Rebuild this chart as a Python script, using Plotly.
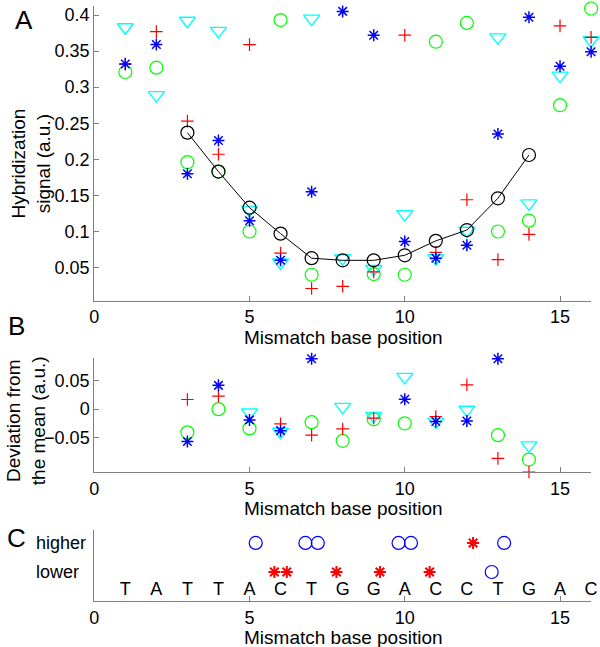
import plotly.graph_objects as go

FONT = "Liberation Sans, Arial, Helvetica, sans-serif"
AXIS_GREY = "#7f7f7f"

# ---- data -----------------------------------------------------------------
positions = list(range(1, 17))
x_ticks = [0, 5, 10, 15]

# Panel A: hybridization signal (a.u.) at each mismatch base position
red_plus = [0.332, 0.377, 0.253, 0.207, 0.359, 0.070, 0.021, 0.024,
            0.044, 0.372, 0.071, 0.144, 0.061, 0.096, 0.385, 0.369]
blue_star = [0.332, 0.359, 0.180, 0.226, 0.115, 0.060, 0.155, 0.405,
             0.372, 0.086, 0.063, 0.081, 0.235, 0.397, 0.329, 0.349]
green_circle = [0.321, 0.327, 0.196, 0.183, 0.100, 0.393, 0.040, 0.004,
                0.041, 0.040, 0.363, 0.389, 0.100, 0.115, 0.275, 0.409]
cyan_triangle = [0.383, 0.289, 0.392, 0.378, 0.130, 0.057, 0.395, 0.063,
                 0.048, 0.124, 0.063, 0.101, 0.369, 0.139, 0.316, 0.365]

mean_positions = list(range(3, 15))
mean_signal = [0.237, 0.183, 0.133, 0.097, 0.063, 0.060,
               0.060, 0.067, 0.087, 0.102, 0.146, 0.206]

a_yticks = [0.05, 0.1, 0.15, 0.2, 0.25, 0.3, 0.35, 0.4]
a_yticktext = ["0.05", "0.1", "0.15", "0.2", "0.25", "0.3", "0.35", "0.4"]

# Panel B: deviation from the mean (a.u.), positions 3..14, None = off axis
dev_red = [0.017, 0.023, None, -0.026, -0.046, -0.035,
           -0.016, None, -0.013, 0.043, -0.087, -0.111]
dev_blue = [-0.057, 0.042, -0.019, -0.038, 0.089, None,
            None, 0.0175, -0.022, -0.021, 0.089, None]
dev_green = [-0.041, 0.0, -0.034, None, -0.023, -0.056,
             -0.018, -0.025, None, None, -0.046, -0.089]
dev_cyan = [None, None, -0.006, -0.040, None, 0.004,
            -0.012, 0.057, -0.022, -0.001, None, -0.064]

b_yticks = [-0.05, 0, 0.05]
b_yticktext = ["\u22120.05", "0", "0.05"]

# Panel C: probe sequence and higher / lower signal markers
bases = ["T", "A", "T", "T", "A", "C", "T", "G",
         "G", "A", "C", "C", "T", "G", "A", "C"]
higher_circle_x = [5.2, 6.8, 7.2, 9.8, 10.2, 13.2]
higher_star_x = [12.2]
lower_star_x = [5.8, 6.2, 7.8, 9.2, 10.8]
lower_circle_x = [12.8]

# ---- layout helpers --------------------------------------------------------
W, H = 600, 647


def px_x(p):
    return p / W


def px_y(p):
    return 1 - p / H


X_DOMAIN = [px_x(90), px_x(591)]
Y_HIGHER, Y_LOWER, Y_BASES = 0.82, 0.41, 0.155


def marker(symbol, color, size, width=1.2):
    return dict(symbol=symbol, size=size, color=color,
                line=dict(color=color, width=width))


MARKERS = {
    "green": marker("circle-open", "#00ff00", 13),
    "cyan": marker("triangle-down-open", "#00ffff", 14, 1.4),
    "red": marker("cross-thin-open", "#ff0000", 9, 1.2),
    "blue": marker("asterisk-open", "#0000ff", 10, 1.5),
}

fig = go.Figure()

# Panel A
for key, vals in [("green", green_circle), ("cyan", cyan_triangle),
                  ("red", red_plus), ("blue", blue_star)]:
    fig.add_trace(go.Scatter(x=positions, y=vals, mode="markers",
                             marker=MARKERS[key], cliponaxis=False,
                             xaxis="x", yaxis="y"))
fig.add_trace(go.Scatter(x=mean_positions, y=mean_signal, mode="lines+markers",
                         line=dict(color="black", width=1),
                         marker=marker("circle-open", "black", 13),
                         cliponaxis=False, xaxis="x", yaxis="y"))

# Panel B
for key, vals in [("green", dev_green), ("cyan", dev_cyan),
                  ("red", dev_red), ("blue", dev_blue)]:
    fig.add_trace(go.Scatter(x=mean_positions, y=vals, mode="markers",
                             marker=MARKERS[key], cliponaxis=False,
                             xaxis="x2", yaxis="y2"))

# Panel C
fig.add_trace(go.Scatter(x=positions, y=[Y_BASES] * len(bases), mode="text",
                         text=bases, textfont=dict(family=FONT, size=18, color="black"),
                         cliponaxis=False, xaxis="x3", yaxis="y3"))
for xs, level, m in [
    (higher_circle_x, Y_HIGHER, marker("circle-open", "#0000ff", 13)),
    (lower_circle_x, Y_LOWER, marker("circle-open", "#0000ff", 13)),
    (higher_star_x, Y_HIGHER, marker("asterisk-open", "#ff0000", 10, 2)),
    (lower_star_x, Y_LOWER, marker("asterisk-open", "#ff0000", 10, 2)),
]:
    fig.add_trace(go.Scatter(x=xs, y=[level] * len(xs), mode="markers",
                             marker=m, cliponaxis=False,
                             xaxis="x3", yaxis="y3"))

common_x = dict(range=[0, 16], tickvals=x_ticks, ticks="inside", ticklen=5,
                tickcolor=AXIS_GREY, showline=True, linecolor=AXIS_GREY,
                linewidth=1, showgrid=False, zeroline=False, domain=X_DOMAIN,
                tickfont=dict(family=FONT, size=18, color="black"))
common_y = dict(ticks="inside", ticklen=5, tickcolor=AXIS_GREY, showline=True,
                linecolor=AXIS_GREY, linewidth=1, showgrid=False, zeroline=False,
                tickfont=dict(family=FONT, size=18, color="black"))

fig.update_layout(
    width=W, height=H,
    margin=dict(l=0, r=0, t=0, b=0),
    paper_bgcolor="white", plot_bgcolor="white",
    showlegend=False,
    font=dict(family=FONT, size=18, color="black"),
    xaxis=dict(common_x, anchor="y"),
    yaxis=dict(common_y, anchor="x", range=[0.0043, 0.4125],
               tickvals=a_yticks, ticktext=a_yticktext,
               domain=[px_y(300), px_y(5)]),
    xaxis2=dict(common_x, anchor="y2"),
    yaxis2=dict(common_y, anchor="x2", range=[-0.1115, 0.0895],
                tickvals=b_yticks, ticktext=b_yticktext,
                domain=[px_y(472), px_y(358)]),
    xaxis3=dict(common_x, anchor="y3"),
    yaxis3=dict(common_y, anchor="x3", range=[0, 1], showticklabels=False,
                ticks="", domain=[px_y(601), px_y(530)]),
)

annotations = [
    # panel letters
    dict(text="A", x=px_x(19), y=px_y(19), font=dict(size=26)),
    dict(text="B", x=px_x(12), y=px_y(326), font=dict(size=26)),
    dict(text="C", x=px_x(12), y=px_y(538), font=dict(size=26)),
    # y titles
    dict(text="Hybridization<br>signal (a.u.)", x=px_x(26), y=px_y(163),
         textangle=-90, font=dict(size=19)),
    dict(text="Deviation from<br>the mean (a.u.)", x=px_x(22), y=px_y(420),
         textangle=-90, font=dict(size=19)),
    # x titles
    dict(text="Mismatch base position", x=px_x(341), y=px_y(337), font=dict(size=19)),
    dict(text="Mismatch base position", x=px_x(341), y=px_y(508), font=dict(size=19)),
    dict(text="Mismatch base position", x=px_x(341), y=px_y(637), font=dict(size=19)),
]
for ann in annotations:
    ann.update(xref="paper", yref="paper", showarrow=False,
               xanchor="center", yanchor="middle")
    ann["font"].update(family=FONT, color="black")

for label, level in [("higher", Y_HIGHER), ("lower", Y_LOWER)]:
    annotations.append(dict(text=label, xref="paper", yref="y3", x=px_x(29),
                            y=level, xanchor="left", yanchor="middle",
                            showarrow=False,
                            font=dict(family=FONT, size=18, color="black")))

fig.update_layout(annotations=annotations)

fig.write_html("out.html", config={"displayModeBar": False},
               post_script="document.body.style.margin='0';document.body.style.padding='0';")
